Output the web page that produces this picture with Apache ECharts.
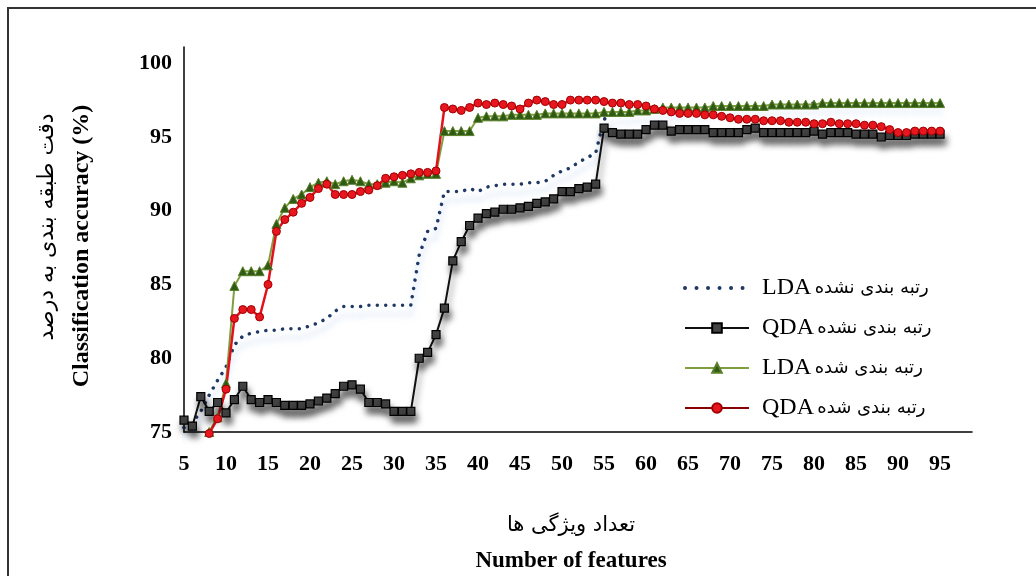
<!DOCTYPE html>
<html>
<head>
<meta charset="utf-8">
<script src="https://cdn.jsdelivr.net/npm/echarts@6/dist/echarts.min.js"></script>
<style>
html,body{margin:0;padding:0;background:#fff;}
#chart{width:1036px;height:576px;}
</style>
</head>
<body>
<div id="chart"></div>
<script>
// ---- data ----
const features = [5,6,7,8,9,10,11,12,13,14,15,16,17,18,19,20,21,22,23,24,25,26,27,28,29,30,
  31,32,33,34,35,36,37,38,39,40,41,42,43,44,45,46,47,48,49,50,51,52,53,54,55,56,57,58,59,60,
  61,62,63,64,65,66,67,68,69,70,71,72,73,74,75,76,77,78,79,80,81,82,83,84,85,86,87,88,89,90,
  91,92,93,94,95];

const ldaUnranked = [75.3,75.6,76.4,77.5,78.5,79.4,80.9,81.5,81.7,81.8,81.9,81.9,82.0,82.0,82.0,82.2,
  82.4,82.7,83.2,83.5,83.5,83.5,83.6,83.6,83.6,83.6,83.6,83.6,87.0,88.6,88.8,91.3,91.3,91.3,91.5,
  91.3,91.6,91.7,91.8,91.8,91.8,91.9,91.9,92.0,92.4,92.7,92.9,93.3,93.6,93.9,96.2,96.5,96.6,96.6,
  96.7,96.7,96.8,96.9,96.9,96.9,97.0,97.0,97.0,97.0,97.1,97.1,97.1,97.1,97.1,97.1,97.2,97.2,97.2,
  97.2,97.2,97.3,97.3,97.3,97.3,97.3,97.3,97.3,97.3,97.3,97.3,97.3,97.3,97.3,97.3,97.3,97.3];

const qdaUnranked = [75.8,75.4,77.4,76.4,77.0,76.3,77.2,78.1,77.2,77.0,77.2,77.0,76.8,76.8,76.8,76.9,
  77.1,77.3,77.6,78.1,78.2,77.9,77.0,77.0,76.9,76.4,76.4,76.4,80.0,80.4,81.6,83.4,86.6,87.9,89.0,
  89.5,89.8,89.9,90.1,90.1,90.2,90.3,90.5,90.6,90.8,91.3,91.3,91.5,91.6,91.8,95.6,95.3,95.2,95.2,
  95.2,95.5,95.8,95.8,95.4,95.5,95.5,95.5,95.5,95.3,95.3,95.3,95.3,95.5,95.6,95.3,95.3,95.3,95.3,
  95.3,95.3,95.4,95.2,95.3,95.3,95.3,95.2,95.2,95.2,95.0,95.1,95.1,95.1,95.2,95.2,95.2,95.2];

const ldaRanked = [null,null,null,75.0,76.0,78.3,84.9,85.9,85.9,85.9,86.3,89.1,90.2,90.8,91.1,91.6,
  91.9,92.0,91.8,92.0,92.1,92.0,91.8,91.8,91.9,92.0,91.9,92.2,92.4,92.5,92.5,95.4,95.4,95.4,95.4,
  96.3,96.4,96.4,96.4,96.5,96.5,96.5,96.5,96.6,96.6,96.6,96.6,96.6,96.6,96.6,96.7,96.7,96.7,96.7,
  96.8,96.8,96.9,97.0,97.0,97.0,97.0,97.0,97.0,97.1,97.1,97.1,97.1,97.1,97.1,97.1,97.2,97.2,97.2,
  97.2,97.2,97.2,97.3,97.3,97.3,97.3,97.3,97.3,97.3,97.3,97.3,97.3,97.3,97.3,97.3,97.3,97.3];

const qdaRanked = [null,null,null,74.9,75.9,77.9,82.7,83.3,83.3,82.8,85.0,88.6,89.4,89.9,90.5,90.9,
  91.5,91.8,91.1,91.1,91.1,91.3,91.4,91.7,92.2,92.3,92.4,92.5,92.6,92.6,92.7,97.0,96.9,96.8,97.0,
  97.3,97.2,97.3,97.2,97.1,96.9,97.3,97.5,97.4,97.2,97.2,97.5,97.5,97.5,97.5,97.4,97.3,97.3,97.2,
  97.2,97.1,96.9,96.8,96.7,96.6,96.6,96.6,96.5,96.5,96.4,96.3,96.2,96.2,96.2,96.1,96.1,96.1,96.0,
  96.0,96.0,95.9,95.9,96.0,95.9,95.9,95.9,95.8,95.8,95.7,95.5,95.3,95.3,95.4,95.4,95.4,95.4];

const seriesNames = ['LDA رتبه بندی نشده','QDA رتبه بندی نشده','LDA رتبه بندی شده','QDA رتبه بندی شده'];
const xTitleFa = 'تعداد ویژگی ها';
const xTitleEn = 'Number of features';
const yTitleFa = 'دقت طبقه بندی به درصد';
const yTitleEn = 'Classification accuracy (%)';

function pairs(vals){ return features.map((f,i)=>[f, vals[i]]); }

const chart = echarts.init(document.getElementById('chart'), null, {renderer:'canvas'});
const serif = '"Liberation Serif", "Times New Roman", serif';
const fa = '"DejaVu Sans", sans-serif';

chart.setOption({
  animation:false,
  backgroundColor:'#fff',
  grid:{left:184, right:64, top:47, bottom:144, containLabel:false},
  xAxis:{
    type:'value', min:5, max:98.8, interval:5,
    splitLine:{show:false}, axisTick:{show:false},
    axisLine:{lineStyle:{color:'#000', width:1.5}},
    axisLabel:{showMaxLabel:false, margin:21, color:'#000', fontFamily:serif, fontWeight:'bold', fontSize:22}
  },
  yAxis:{
    type:'value', min:75, max:101.1, interval:5,
    splitLine:{show:false}, axisTick:{show:false},
    axisLine:{show:true, lineStyle:{color:'#000', width:1.5}},
    axisLabel:{showMaxLabel:false, margin:12, color:'#000', fontFamily:serif, fontWeight:'bold', fontSize:22}
  },
  legend:{
    orient:'vertical', left:678, top:271, itemWidth:64, itemHeight:12, itemGap:16,
    data:[
      {name:seriesNames[0], itemStyle:{opacity:0}, lineStyle:{color:'#1f3864', width:4, type:[0.01, 11.5], cap:'round'}},
      {name:seriesNames[1]},
      {name:seriesNames[2]},
      {name:seriesNames[3], lineStyle:{color:'#8b0000'}}
    ],
    formatter:function(n){ const p=n.split(' '); return '{en|'+p[0]+'} {fa|'+p.slice(1).join(' ')+'}'; },
    textStyle:{
      padding:[0,0,0,8],
      rich:{
        en:{fontFamily:serif, fontSize:24, color:'#000', lineHeight:25},
        fa:{fontFamily:fa, fontSize:18, color:'#000', lineHeight:25}
      }
    }
  },
  graphic:[
    {type:'rect', shape:{x:8, y:8, width:1200, height:800}, style:{fill:'none', stroke:'#333', lineWidth:2}, silent:true},
    {type:'text', x:47, y:227, rotation:Math.PI/2, style:{text:yTitleFa, fontFamily:fa, fontSize:22, fill:'#000', align:'center', verticalAlign:'middle'}},
    {type:'text', x:82, y:246, rotation:Math.PI/2, style:{text:yTitleEn, fontFamily:serif, fontWeight:'bold', fontSize:24, fill:'#000', align:'center', verticalAlign:'middle'}},
    {type:'text', x:571, y:526, style:{text:xTitleFa, fontFamily:fa, fontSize:21, fill:'#000', align:'center', verticalAlign:'middle'}},
    {type:'text', x:571, y:561, style:{text:xTitleEn, fontFamily:serif, fontWeight:'bold', fontSize:23, fill:'#000', align:'center', verticalAlign:'middle'}}
  ],
  series:[
    {
      name:seriesNames[0], type:'line', data:pairs(ldaUnranked), clip:false,
      showSymbol:false, symbol:'circle', symbolSize:0, color:'#1f3864',
      lineStyle:{color:'#1f3864', width:3.5, type:[0.01, 8.4], cap:'round',
        shadowColor:'rgba(110,160,225,0.6)', shadowBlur:6, shadowOffsetY:9}
    },
    {
      name:seriesNames[1], type:'line', data:pairs(qdaUnranked), clip:false,
      symbol:'rect', symbolSize:8, color:'#111',
      lineStyle:{color:'#111', width:2, shadowColor:'rgba(0,0,0,0.5)', shadowBlur:6, shadowOffsetY:7, shadowOffsetX:2},
      itemStyle:{color:'#444', borderColor:'#000', borderWidth:1.2, shadowColor:'rgba(0,0,0,0.5)', shadowBlur:6, shadowOffsetY:7, shadowOffsetX:2}
    },
    {
      name:seriesNames[2], type:'line', data:pairs(ldaRanked), clip:false, connectNulls:false,
      symbol:'triangle', symbolSize:9, color:'#7f9f3f',
      lineStyle:{color:'#7f9f3f', width:2},
      itemStyle:{color:'#2f5a14', borderColor:'#5a7f2a', borderWidth:1}
    },
    {
      name:seriesNames[3], type:'line', data:pairs(qdaRanked), clip:false,
      symbol:'circle', symbolSize:8, color:'#e0121b',
      lineStyle:{color:'#e0121b', width:2.5},
      itemStyle:{color:'#e8161f', borderColor:'#a00000', borderWidth:1}
    }
  ]
});
</script>
</body>
</html>
